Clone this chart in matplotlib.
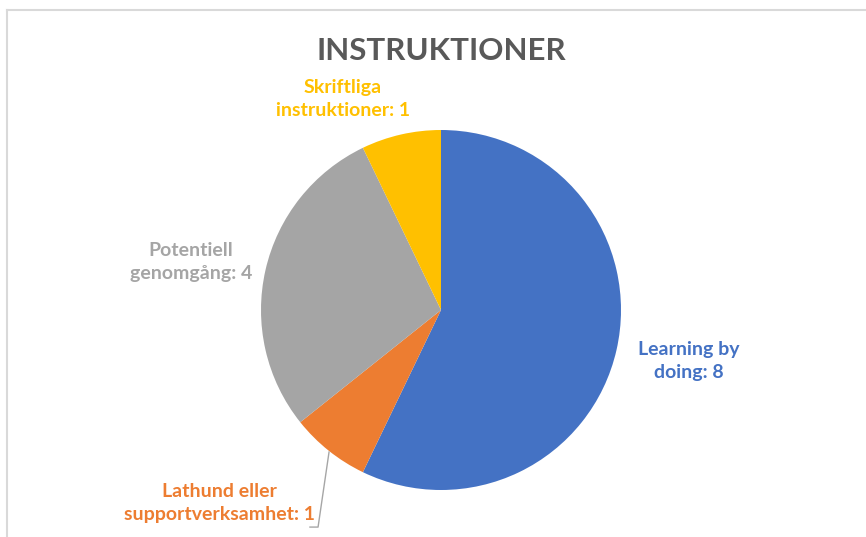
import matplotlib
matplotlib.use("Agg")
import matplotlib.pyplot as plt
from matplotlib.lines import Line2D

categories = ["Learning by\ndoing", "Lathund eller\nsupportverksamhet", "Potentiell\ngenomgång", "Skriftliga\ninstruktioner"]
values = [8, 1, 4, 1]
colors = ["#4472C4", "#ED7D31", "#A5A5A5", "#FFC000"]
label_colors = ["#4472C4", "#ED7D31", "#A5A5A5", "#FFC000"]
title = "INSTRUKTIONER"

plt.rcParams['font.family'] = ['Lato', 'DejaVu Sans']

W, H = 866, 537
fig = plt.figure(figsize=(W / 100, H / 100), dpi=100)
fig.patch.set_facecolor("white")

# chart border (top and left visible)
fig.add_artist(Line2D([7 / W, 7 / W], [0, 1 - 10 / H], transform=fig.transFigure, color="#D9D9D9", lw=1.5))
fig.add_artist(Line2D([7 / W, 1], [1 - 10 / H, 1 - 10 / H], transform=fig.transFigure, color="#D9D9D9", lw=1.5))

cx, cy, r = 441, 310, 180
ax = fig.add_axes([(cx - r) / W, (H - cy - r) / H, 2 * r / W, 2 * r / H])
ax.pie(values, colors=colors, startangle=90, counterclock=False, radius=1,
       wedgeprops=dict(linewidth=0))
ax.set_xlim(-1, 1)
ax.set_ylim(-1, 1)
ax.set_aspect("equal")
ax.axis("off")

# label positions (data coordinates, radius = 1)
label_pos = [(1.378, -0.283), (-1.23, -1.072), (-1.389, 0.267), (-0.544, 1.172)]
for cat, v, c, (lx, ly) in zip(categories, values, label_colors, label_pos):
    ax.text(lx, ly, f"{cat}: {v}", color=c, fontsize=14, fontweight="bold",
            ha="center", va="center", linespacing=1.45, clip_on=False)

# leader line for the small orange slice
ax.plot([-0.622, -0.683, -0.728], [-0.789, -1.206, -1.206], color="#A6A6A6", lw=1, clip_on=False)

fig.text(441 / W, 1 - 51 / H, title, fontsize=22.5, fontweight="bold", color="#595959",
         ha="center", va="center")

fig.savefig("out.png", dpi=100)
